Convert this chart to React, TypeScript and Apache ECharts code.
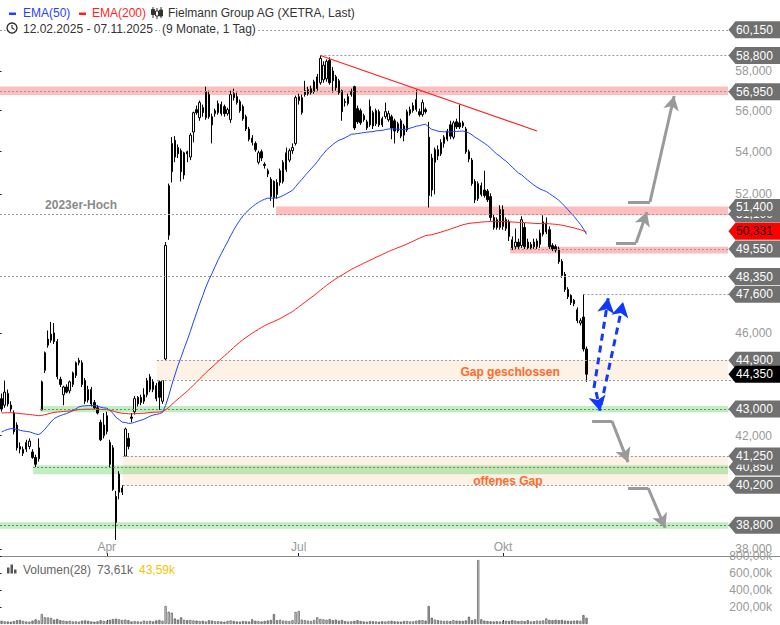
import { useEffect, useRef } from "react";
import * as echarts from "echarts";

const FONT = "'Liberation Sans', Arial, Helvetica, sans-serif";

// ---------- calendar ----------
const FIRST_DAY = "2025-02-12";
const HOLIDAYS = ["2025-04-18", "2025-04-21", "2025-05-01"];
const SLOT_COUNT = 252; // trading days + empty space on the right
const MONTH_LABELS: Record<number, string> = { 4: "Apr", 7: "Jul", 10: "Okt" };

// ---------- price data: [open, high, low, close] ----------
const ohlc: number[][] = [
  [43.40, 43.60, 42.90, 43.00], [43.15, 44.10, 43.05, 43.65], [43.60, 43.75, 43.10, 43.20], [43.15, 43.30, 42.90, 43.00],
  [42.85, 42.95, 42.05, 42.15], [42.40, 42.50, 41.45, 41.55], [41.60, 41.75, 41.35, 41.50], [41.35, 41.60, 41.25, 41.50],
  [41.50, 41.85, 41.40, 41.75], [41.60, 41.90, 41.50, 41.80], [41.40, 41.50, 41.15, 41.20], [41.20, 41.30, 40.85, 40.95],
  [41.15, 41.90, 41.05, 41.55], [42.97, 44.10, 42.95, 44.05], [44.50, 45.25, 44.40, 45.20], [45.50, 46.10, 45.40, 45.75],
  [45.70, 46.45, 45.60, 45.95], [46.00, 46.40, 45.55, 45.65], [45.65, 45.75, 44.15, 44.25], [44.15, 44.25, 43.85, 43.95],
  [43.55, 43.90, 43.15, 43.85], [43.85, 43.95, 43.60, 43.65], [43.70, 44.10, 43.60, 44.05], [43.95, 44.45, 43.85, 44.40],
  [44.30, 44.85, 44.20, 44.80], [44.80, 45.00, 44.70, 44.90], [44.80, 44.90, 43.85, 43.95], [44.10, 44.20, 43.20, 43.30],
  [43.75, 43.90, 43.25, 43.35], [43.75, 43.85, 43.10, 43.20], [43.25, 43.35, 43.00, 43.05], [43.05, 43.15, 42.80, 42.85],
  [42.50, 42.60, 41.80, 41.85], [42.00, 42.85, 41.90, 42.40], [42.15, 42.90, 42.05, 42.75], [41.75, 41.85, 40.85, 40.95],
  [41.55, 41.65, 40.00, 40.05], [39.80, 40.00, 38.30, 38.90], [39.95, 40.70, 39.70, 40.60], [39.95, 40.20, 39.85, 40.10],
  [41.25, 42.30, 41.25, 42.25], [41.90, 42.10, 41.50, 41.60], [42.70, 42.85, 42.50, 42.65], [42.90, 43.50, 42.80, 43.40],
  [43.20, 43.50, 43.10, 43.45], [43.25, 43.55, 43.15, 43.45], [43.30, 43.80, 43.20, 43.55], [43.55, 44.20, 43.45, 44.10],
  [43.75, 44.35, 43.65, 44.25], [44.05, 44.15, 43.65, 43.75], [43.90, 44.00, 43.30, 43.40], [44.05, 44.10, 42.97, 43.45],
  [43.30, 44.12, 43.20, 44.10], [44.95, 49.85, 44.90, 49.70], [50.15, 52.50, 49.95, 52.40], [53.05, 54.70, 52.55, 54.40],
  [54.55, 54.75, 53.50, 53.75], [54.20, 54.35, 53.70, 53.90], [54.05, 54.15, 52.60, 53.05], [52.90, 54.00, 52.70, 53.95],
  [54.00, 54.05, 53.50, 53.90], [53.75, 54.90, 53.60, 54.80], [54.95, 55.95, 54.45, 55.90], [56.05, 56.25, 55.80, 55.90],
  [55.65, 56.50, 55.50, 56.40], [56.15, 56.30, 55.70, 55.90], [55.65, 57.20, 55.55, 56.95], [56.80, 57.00, 55.60, 55.70],
  [55.70, 55.85, 54.40, 55.30], [55.85, 56.10, 55.70, 56.00], [55.90, 56.50, 55.80, 56.35], [56.30, 56.45, 55.75, 55.85],
  [56.20, 56.30, 55.70, 55.85], [55.85, 56.15, 55.75, 56.05], [55.55, 57.00, 55.40, 56.80], [56.85, 57.10, 56.50, 56.65],
  [56.70, 56.90, 56.30, 56.40], [56.45, 56.55, 55.90, 56.00], [56.20, 56.30, 55.50, 55.60], [55.70, 55.80, 55.00, 55.10],
  [55.10, 55.20, 54.50, 54.60], [54.65, 54.80, 54.30, 54.45], [54.40, 54.50, 54.00, 54.10], [53.50, 54.05, 53.40, 53.95],
  [54.00, 54.10, 53.55, 53.70], [53.40, 53.50, 53.20, 53.35], [53.10, 53.20, 52.80, 52.95], [52.70, 52.80, 51.70, 51.90],
  [52.60, 52.65, 51.40, 51.85], [52.55, 52.70, 51.80, 52.00], [52.55, 53.20, 52.40, 53.10], [52.60, 53.60, 52.50, 53.50],
  [53.15, 54.20, 53.05, 53.95], [53.60, 54.15, 53.50, 54.05], [54.05, 54.40, 53.90, 54.20], [54.40, 56.75, 54.30, 56.65],
  [56.50, 56.85, 56.30, 56.70], [55.90, 56.80, 55.80, 56.65], [56.80, 57.50, 56.70, 57.00], [56.85, 57.20, 56.75, 57.05],
  [56.90, 57.25, 56.80, 57.10], [56.95, 57.55, 56.85, 57.45], [57.10, 57.85, 57.00, 57.70], [57.40, 58.80, 57.30, 58.65],
  [57.55, 58.50, 57.40, 58.30], [57.60, 58.60, 57.45, 58.50], [58.55, 58.70, 57.30, 57.40], [58.00, 58.20, 56.90, 57.50],
  [57.70, 57.80, 57.00, 57.15], [57.50, 57.60, 56.80, 56.90], [57.00, 57.05, 55.50, 55.95], [56.45, 56.60, 56.20, 56.40],
  [56.35, 56.85, 56.25, 56.70], [56.80, 57.10, 56.70, 56.95], [57.20, 57.25, 55.05, 55.15], [56.10, 56.25, 55.35, 55.45],
  [56.00, 56.10, 55.30, 55.40], [55.75, 55.85, 55.45, 55.55], [55.15, 55.55, 55.05, 55.45], [56.20, 56.55, 55.20, 55.30],
  [55.90, 56.00, 55.10, 55.25], [55.35, 56.10, 55.25, 56.00], [55.95, 56.05, 55.20, 55.30], [55.60, 55.70, 55.20, 55.30],
  [55.70, 56.40, 55.60, 55.95], [55.55, 56.00, 55.45, 55.85], [55.70, 55.80, 54.60, 55.15], [55.50, 55.60, 54.40, 55.00],
  [55.35, 55.45, 54.90, 55.00], [55.50, 55.60, 54.65, 54.75], [55.25, 55.35, 54.50, 54.80], [55.05, 56.05, 54.95, 55.95],
  [55.85, 56.20, 55.75, 56.05], [56.00, 56.40, 55.90, 56.25], [56.05, 57.05, 55.95, 56.55], [55.95, 56.10, 55.70, 55.80],
  [55.80, 56.55, 55.70, 56.40], [56.05, 56.15, 55.85, 55.95], [54.70, 55.45, 51.40, 51.95], [53.70, 53.90, 51.90, 52.20],
  [53.50, 54.20, 52.00, 54.10], [54.10, 54.30, 53.60, 53.80], [53.90, 54.60, 53.80, 54.45], [54.40, 54.80, 54.20, 54.70],
  [54.60, 55.10, 54.50, 55.00], [55.30, 55.50, 54.60, 54.75], [54.70, 55.50, 54.60, 55.40], [55.45, 55.60, 55.10, 55.20],
  [55.40, 56.30, 55.10, 55.20], [55.40, 55.50, 55.15, 55.25], [55.10, 55.20, 53.90, 54.00], [54.00, 54.10, 53.50, 53.65],
  [53.60, 53.70, 52.40, 52.50], [52.60, 52.70, 51.60, 51.75], [51.80, 52.60, 51.70, 52.50], [52.40, 52.55, 51.90, 52.00],
  [52.20, 53.10, 51.85, 51.95], [52.15, 52.25, 51.65, 51.75], [51.90, 52.05, 50.80, 50.95], [50.95, 51.10, 50.40, 50.50],
  [50.85, 50.95, 50.40, 50.50], [50.50, 51.50, 50.40, 51.30], [51.30, 51.50, 50.40, 50.55], [50.45, 50.95, 50.35, 50.85],
  [50.75, 50.85, 49.90, 50.10], [49.95, 50.10, 49.50, 49.60], [49.65, 50.45, 49.55, 49.85], [49.85, 50.00, 49.55, 49.65],
  [49.70, 51.00, 49.60, 50.85], [50.50, 50.70, 49.55, 49.65], [49.85, 50.00, 49.55, 49.60], [49.60, 49.85, 49.50, 49.75],
  [49.85, 50.00, 49.55, 49.65], [49.65, 50.00, 49.55, 49.90], [49.75, 50.40, 49.60, 50.25], [50.20, 51.05, 50.10, 50.75],
  [50.30, 50.95, 50.20, 50.70], [50.40, 50.55, 49.55, 49.65], [49.70, 49.80, 49.45, 49.55], [49.65, 49.75, 49.40, 49.50],
  [49.55, 49.65, 48.90, 49.00], [49.00, 49.10, 48.30, 48.40], [48.45, 48.55, 47.70, 47.80], [47.80, 47.90, 47.40, 47.50],
  [47.55, 47.60, 47.15, 47.25], [47.20, 47.40, 47.10, 47.35], [46.95, 47.05, 46.40, 46.50], [46.40, 46.60, 46.30, 46.50],
  [46.65, 47.60, 45.25, 45.35], [45.35, 45.45, 44.05, 44.35],
];

// ---------- volume (thousand shares) ----------
const volumesK = [
  38, 32, 30, 28, 35, 45, 48, 36, 30, 28,
  40, 55, 42, 118, 80, 78, 72, 52, 60, 45,
  40, 35, 38, 30, 32, 28, 40, 42, 38, 30,
  28, 32, 45, 38, 35, 50, 58, 62, 55, 48,
  52, 45, 30, 35, 32, 28, 40, 35, 38, 30,
  42, 48, 38, 212, 145, 133, 65, 52, 79, 50,
  45, 48, 42, 40, 35, 38, 30, 45, 40, 32,
  35, 30, 28, 38, 42, 36, 30, 28, 35, 32,
  30, 55, 38, 35, 30, 36, 42, 48, 118, 45,
  50, 40, 38, 35, 45, 141, 153, 52, 45, 40,
  36, 48, 79, 60, 55, 50, 58, 45, 52, 40,
  48, 35, 30, 32, 38, 45, 36, 30, 28, 35,
  32, 30, 28, 33, 30, 35, 38, 32, 30, 28,
  35, 36, 30, 32, 40, 45, 45, 40, 212, 74,
  52, 45, 40, 36, 38, 35, 45, 40, 38, 36,
  42, 86, 45, 55, 753, 55, 40, 35, 32, 30,
  33, 30, 35, 38, 36, 45, 40, 35, 38, 34,
  45, 30, 33, 40, 38, 42, 65, 48, 45, 50,
  45, 48, 40, 38, 36, 40, 42, 38, 106, 73.61,
];
const VOLUME_AVG_LABEL = "43,59k";

// ---------- axes ----------
// ticks whose labels are not covered by a level tag in the picture
const PRICE_TICKS = [38, 42, 46, 52, 54, 56, 58];
const PRICE_MIN = 37.758;
const PRICE_MAX = 61.761;
const VOLUME_TICKS = [200, 400, 600, 800];
const VOLUME_MAX = 800;

// ---------- indicators ----------
const EMA50_SEED = 42.1;
const EMA200_SEED = 42.85;
const EMA200_LAST = 50.331;

// ---------- levels ----------
const TAG_LEVELS = [60.15, 58.8, 56.95, 51.4, 49.55, 48.35, 47.6, 44.9, 43.0, 41.25, 40.2, 38.8];
const COVERED_TAG_LEVELS = [51.1, 40.85];
const TOP_LEVEL = 60.15;
const TOP_LEVEL_SEGMENTS = [[-0.5, 1.3], [49.6, 51.2], [82.9, 251.5]]; // interrupted by the header texts
const LINE_LEVELS = [58.8, 56.95, 51.1, 49.55, 48.35, 47.6, 44.9, 44.12, 41.25, 40.2];
const LINE_STARTS = [103, -0.5, -0.5, 164.3, -0.5, 188, 50.2, 50.2, 39.2, 39.2];
const GREEN_LEVELS = [43.0, 40.85, 38.8];
const GREEN_STARTS = [12.4, 10.2, -0.5];
const PINK_BANDS = [[56.78, 57.21], [51.05, 51.45], [49.35, 49.65]];
const PINK_STARTS = [-0.5, 88.7, 164.3];
const GREEN_BANDS = [[42.88, 43.12], [40.59, 40.92], [38.68, 38.9]];
const GAP_BANDS = [[44.12, 44.9], [40.2, 41.25]];
const GAP_STARTS = [50.2, 39.2];
const BAND_END = 234.7;

// ---------- annotations (index, price) ----------
const TREND_LINE = [[103, 58.8], [173, 55.0]];
const GRAY_ARROWS = [
  [[202.4, 51.65], [209.5, 51.65], [217.3, 56.73]],
  [[198.5, 49.81], [205.0, 49.81], [208.5, 51.2]],
  [[190.8, 42.55], [197.2, 42.55], [202.4, 41.03]],
  [[202.4, 40.1], [208.9, 40.1], [214.4, 38.71]],
];
const BLUE_ARROWS = [
  [[191.4, 43.81], [196.0, 47.44]],
  [[192.1, 43.65], [193.4, 42.93]],
  [[193.7, 43.16], [200.8, 47.28]],
];
const NOTES = [
  { text: "2023er-Hoch", at: [25.7, 51.51], color: "#8a8a8a" },
  { text: "Gap geschlossen", at: [164.3, 44.42], color: "#ff6a2a" },
  { text: "offenes Gap", at: [163.6, 40.35], color: "#ff6a2a" },
];

const L = Math.log;
const fmtPrice = (v: number) => v.toFixed(3).replace(".", ",");
const fmtVol = (v: number) => v.toFixed(2).replace(".", ",") + "k";

function tradingDays(first: string, n: number): string[] {
  const out: string[] = [];
  const d = new Date(first + "T12:00:00Z");
  while (out.length < n) {
    const dow = d.getUTCDay();
    const s = d.toISOString().slice(0, 10);
    if (dow !== 0 && dow !== 6 && !HOLIDAYS.includes(s)) out.push(s);
    d.setUTCDate(d.getUTCDate() + 1);
  }
  return out;
}

function ema(values: number[], period: number, seed: number): number[] {
  const k = 2 / (period + 1);
  let e = seed;
  return values.map((v) => (e = e + k * (v - e)));
}

export default function App() {
  const ref = useRef<HTMLDivElement>(null);

  useEffect(() => {
    if (!ref.current) return;
    const chart = echarts.init(ref.current, undefined, { renderer: "svg" });

    const dates = tradingDays(FIRST_DAY, ohlc.length);
    const monthTicks: number[] = [];
    dates.forEach((d, i) => {
      if (i === 0) return;
      const m = Number(d.slice(5, 7));
      if (m !== Number(dates[i - 1].slice(5, 7)) && MONTH_LABELS[m]) monthTicks.push(i);
    });
    const monthOf = (i: number) => {
      const d = dates[Math.round(i)];
      return d ? MONTH_LABELS[Number(d.slice(5, 7))] || "" : "";
    };

    const closes = ohlc.map((d) => d[3]);
    const ema50 = ema(closes, 50, EMA50_SEED);
    const ema200 = ema(closes, 200, EMA200_SEED);
    const lastClose = closes[closes.length - 1];
    const xMax = SLOT_COUNT - 0.5;
    const tagX = SLOT_COUNT - 1;

    const tagPath = "path://M0,8.5L7,0L52,0L52,17L7,17Z";
    const tag = (v: number, bg: string, fg: string) => ({
      coord: [tagX, L(v)],
      symbol: tagPath,
      symbolSize: [52, 17],
      symbolOffset: [-24, 0],
      symbolKeepAspect: false,
      itemStyle: { color: bg },
      label: {
        show: true,
        position: "inside",
        formatter: fmtPrice(v),
        color: fg,
        fontSize: 12,
        fontFamily: FONT,
      },
    });

    const tagData: any[] = [];
    TAG_LEVELS.forEach((v) => {
      tagData.push(tag(v, "#707070", "#ffffff"));
      if (v === 51.4) tagData.push(tag(EMA200_LAST, "#ff0000", "#1a0000"));
      if (v === 44.9) tagData.push(tag(lastClose, "#000000", "#ffffff"));
    });
    const coveredTags = COVERED_TAG_LEVELS.map((v) => tag(v, "#707070", "#ffffff"));

    const topLines: any[] = TOP_LEVEL_SEGMENTS.map((s) => [
      { coord: [s[0], L(TOP_LEVEL)], symbol: "none" },
      { coord: [s[1], L(TOP_LEVEL)], symbol: "none" },
    ]);
    const levelLines: any[] = LINE_LEVELS.map((v, k) => [
      { coord: [LINE_STARTS[k], L(v)], symbol: "none" },
      { coord: [xMax, L(v)], symbol: "none" },
    ]);
    const greenLines: any[] = GREEN_LEVELS.map((v, k) => [
      { coord: [GREEN_STARTS[k], L(v)], symbol: "none", lineStyle: { color: "#5e8f5e", type: [2, 2], width: 1 } },
      { coord: [xMax, L(v)], symbol: "none" },
    ]);
    const trend: any[] = [[
      { coord: [TREND_LINE[0][0], L(TREND_LINE[0][1])], symbol: "none", lineStyle: { color: "#ff2222", type: "solid", width: 1.2 } },
      { coord: [TREND_LINE[1][0], L(TREND_LINE[1][1])], symbol: "none" },
    ]];
    const grayStyle = { color: "#9a9a9a", type: "solid", width: 3 };
    const grayArrows: any[] = [];
    GRAY_ARROWS.forEach((a) => {
      grayArrows.push([
        { coord: [a[0][0], L(a[0][1])], symbol: "none", lineStyle: grayStyle },
        { coord: [a[1][0], L(a[1][1])], symbol: "none", lineStyle: grayStyle },
      ]);
      grayArrows.push([
        { coord: [a[1][0], L(a[1][1])], symbol: "none", lineStyle: grayStyle },
        { coord: [a[2][0], L(a[2][1])], symbol: "arrow", symbolSize: [12, 14], lineStyle: grayStyle },
      ]);
    });
    const blueStyle = { color: "#1238ff", type: [7, 5], width: 3 };
    const blueArrows: any[] = BLUE_ARROWS.map((a) => [
      { coord: [a[0][0], L(a[0][1])], symbol: "none", lineStyle: blueStyle },
      { coord: [a[1][0], L(a[1][1])], symbol: "arrow", symbolSize: [13, 15], lineStyle: blueStyle },
    ]);

    const band = (lo: number, hi: number, start: number, color: string) => [
      { coord: [start, L(lo)], itemStyle: { color } },
      { coord: [BAND_END, L(hi)] },
    ];
    const areas: any[] = [
      ...GAP_BANDS.map((b, k) => band(b[0], b[1], GAP_STARTS[k], "rgba(252,214,180,0.35)")),
      ...PINK_BANDS.map((b, k) => band(b[0], b[1], PINK_STARTS[k], "rgba(255,120,120,0.48)")),
      ...GREEN_BANDS.map((b, k) => band(b[0], b[1], GREEN_STARTS[k], "rgba(110,210,110,0.42)")),
    ];

    const notes = NOTES.map((n) => ({
      coord: [n.at[0], L(n.at[1])],
      symbol: "rect",
      symbolSize: 1,
      itemStyle: { color: "rgba(0,0,0,0)" },
      label: {
        show: true,
        position: "inside",
        formatter: n.text,
        color: n.color,
        fontSize: 12,
        fontWeight: "bold",
        fontFamily: FONT,
      },
    }));

    const hdr = (text: string, x: number, y: number, fill: string) => ({
      type: "text",
      z: 100,
      style: { text, x, y, fill, fontSize: 12, fontFamily: FONT, verticalAlign: "middle" },
      silent: true,
    });

    const option: any = {
      animation: false,
      textStyle: { fontFamily: FONT },
      grid: [
        { left: 0, right: 0, top: 0, height: 556 },
        { left: 0, right: 0, top: 556, height: 68 },
      ],
      xAxis: [
        {
          type: "value",
          gridIndex: 0,
          min: -0.5,
          max: xMax,
          axisLine: { show: true, onZero: false, lineStyle: { color: "#8a8a8a", width: 1 } },
          axisTick: { show: true, inside: true, length: 3, customValues: monthTicks, lineStyle: { color: "#222" } },
          axisLabel: {
            show: true,
            inside: true,
            margin: 3,
            customValues: monthTicks,
            formatter: (v: number) => monthOf(v),
            color: "#999",
            fontSize: 12,
            fontFamily: FONT,
          },
          splitLine: { show: false },
        },
        {
          type: "value",
          gridIndex: 1,
          min: -0.5,
          max: xMax,
          axisLine: { show: false },
          axisTick: { show: true, inside: true, length: 4, customValues: monthTicks, lineStyle: { color: "#222" } },
          axisLabel: { show: false },
          splitLine: { show: false },
        },
      ],
      yAxis: [
        {
          type: "value",
          gridIndex: 0,
          position: "right",
          min: L(PRICE_MIN),
          max: L(PRICE_MAX),
          axisLine: { show: false },
          axisTick: { show: true, inside: true, length: 4, customValues: PRICE_TICKS.map(L), lineStyle: { color: "#222" } },
          axisLabel: {
            show: true,
            inside: true,
            margin: 8,
            customValues: PRICE_TICKS.map(L),
            formatter: (v: number) => fmtPrice(Math.round(Math.exp(v) * 1000) / 1000),
            color: "#999",
            fontSize: 12,
            fontFamily: FONT,
          },
          splitLine: { show: false },
        },
        {
          type: "value",
          gridIndex: 1,
          position: "right",
          min: 0,
          max: VOLUME_MAX,
          axisLine: { show: false },
          axisTick: { show: true, inside: true, length: 4, customValues: VOLUME_TICKS, lineStyle: { color: "#222" } },
          axisLabel: {
            show: true,
            inside: true,
            margin: 8,
            customValues: VOLUME_TICKS,
            formatter: (v: number) => fmtVol(v),
            color: "#999",
            fontSize: 12,
            fontFamily: FONT,
          },
          splitLine: { show: false },
        },
      ],
      series: [
        {
          name: "Fielmann",
          type: "candlestick",
          xAxisIndex: 0,
          yAxisIndex: 0,
          barWidth: 1.8,
          encode: { x: 0, y: [1, 2, 3, 4] },
          data: ohlc.map(([o, h, l, c], i) => [i, L(o), L(c), L(l), L(h)]),
          itemStyle: { color: "#ffffff", color0: "#000000", borderColor: "#000000", borderColor0: "#000000", borderWidth: 1 },
          z: 2,
          markArea: { silent: true, data: areas },
          markLine: {
            silent: true,
            animation: false,
            symbol: ["none", "none"],
            label: { show: false },
            lineStyle: { color: "#9a9a9a", type: [2, 2], width: 1 },
            data: [...topLines, ...levelLines, ...greenLines, ...trend, ...grayArrows, ...blueArrows],
          },
        },
        {
          name: "EMA(50)",
          type: "line",
          xAxisIndex: 0,
          yAxisIndex: 0,
          showSymbol: false,
          symbol: "none",
          data: ema50.map((v, i) => [i, L(v)]),
          lineStyle: { color: "#1f44ff", width: 1 },
          z: 3,
          markPoint: { silent: true, animation: false, z: 8, data: tagData },
        },
        {
          name: "EMA(200)",
          type: "line",
          xAxisIndex: 0,
          yAxisIndex: 0,
          showSymbol: false,
          symbol: "none",
          data: ema200.map((v, i) => [i, L(v)]),
          lineStyle: { color: "#ff1f1f", width: 1 },
          z: 3,
          markPoint: { silent: true, animation: false, z: 6, data: [...coveredTags, ...notes] },
        },
        {
          name: "Volumen",
          type: "bar",
          xAxisIndex: 1,
          yAxisIndex: 1,
          barWidth: 2.2,
          data: volumesK.map((v, i) => ({
            value: [i, v],
            itemStyle: { color: ohlc[i][3] >= ohlc[i][0] ? "#d6d6d6" : "#a3a3a3" },
          })),
          itemStyle: { borderColor: "#555", borderWidth: 0.7 },
        },
      ],
      graphic: [
        { type: "rect", shape: { x: 9, y: 12.5, width: 7, height: 2.5 }, style: { fill: "#1f44ff" }, silent: true },
        hdr("EMA(50)", 23, 13, "#1f44ff"),
        { type: "rect", shape: { x: 79, y: 12.5, width: 7, height: 2.5 }, style: { fill: "#ff1f1f" }, silent: true },
        hdr("EMA(200)", 92, 13, "#ff1f1f"),
        {
          type: "group",
          silent: true,
          children: [
            { type: "line", shape: { x1: 153, y1: 7, x2: 153, y2: 18 }, style: { stroke: "#333", lineWidth: 1 } },
            { type: "rect", shape: { x: 151.5, y: 9.5, width: 3, height: 5 }, style: { fill: "#333", stroke: "#333", lineWidth: 1 } },
            { type: "line", shape: { x1: 157, y1: 8, x2: 157, y2: 19 }, style: { stroke: "#333", lineWidth: 1 } },
            { type: "rect", shape: { x: 155.5, y: 11, width: 3, height: 5 }, style: { fill: "#fff", stroke: "#333", lineWidth: 1 } },
            { type: "line", shape: { x1: 161, y1: 7, x2: 161, y2: 18 }, style: { stroke: "#333", lineWidth: 1 } },
            { type: "rect", shape: { x: 159.5, y: 10, width: 3, height: 6 }, style: { fill: "#333", stroke: "#333", lineWidth: 1 } },
          ],
        },
        hdr("Fielmann Group AG (XETRA, Last)", 168, 13, "#333"),
        { type: "circle", shape: { cx: 12, cy: 28, r: 5 }, style: { fill: "none", stroke: "#333", lineWidth: 1.4 }, silent: true },
        { type: "polyline", shape: { points: [[12, 25], [12, 28], [14.5, 29.5]] }, style: { fill: "none", stroke: "#333", lineWidth: 1.2 }, silent: true },
        hdr("12.02.2025 - 07.11.2025", 23, 28.5, "#333"),
        hdr("(9 Monate, 1 Tag)", 162, 28.5, "#333"),
        { type: "rect", shape: { x: 7, y: 567.5, width: 2.5, height: 6 }, style: { fill: "#555" }, silent: true },
        { type: "rect", shape: { x: 10.5, y: 564.5, width: 2.5, height: 9 }, style: { fill: "#555" }, silent: true },
        { type: "rect", shape: { x: 14, y: 569.5, width: 2.5, height: 4 }, style: { fill: "#555" }, silent: true },
        hdr("Volumen(28)", 23, 570, "#666"),
        hdr(fmtVol(volumesK[volumesK.length - 1]), 97, 570, "#666"),
        hdr(VOLUME_AVG_LABEL, 139, 570, "#f5c400"),
      ],
    };

    chart.setOption(option);
    return () => chart.dispose();
  }, []);

  return (
    <div
      ref={ref}
      style={{ position: "fixed", left: 0, top: 0, width: 780, height: 625, background: "#fff" }}
    />
  );
}
